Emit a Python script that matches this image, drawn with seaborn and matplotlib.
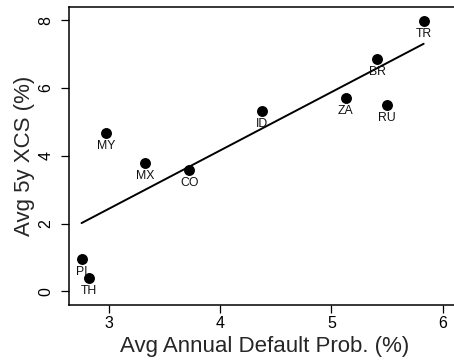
import matplotlib
matplotlib.use("Agg")
import matplotlib.pyplot as plt
import seaborn as sns
import pandas as pd

countries = ["TR", "BR", "ZA", "RU", "ID", "MY", "MX", "CO", "PI", "TH"]
default_prob = [5.83, 5.41, 5.13, 5.50, 4.37, 2.97, 3.32, 3.72, 2.75, 2.82]
xcs = [7.97, 6.84, 5.71, 5.49, 5.33, 4.66, 3.78, 3.57, 0.96, 0.41]
x_ticks = [3, 4, 5, 6]
y_ticks = [0, 2, 4, 6, 8]

df = pd.DataFrame({"country": countries, "pd": default_prob, "xcs": xcs})

sns.set_style("ticks")
plt.rcParams["font.family"] = ["Liberation Sans", "DejaVu Sans"]

fig = plt.figure(figsize=(4.54, 3.6), dpi=100)
ax = fig.add_axes([69 / 454, 55 / 360, (460 - 69) / 454, (305 - 7) / 360])

sns.regplot(data=df, x="pd", y="xcs", ax=ax, ci=None, truncate=True,
            color="black",
            scatter_kws={"s": 62, "linewidths": 0, "alpha": 1},
            line_kws={"lw": 1.4, "color": "black"})

for c, xv, yv in zip(df["country"], df["pd"], df["xcs"]):
    ax.annotate(c, (xv, yv), xytext=(0, -13), textcoords="offset pixels",
                ha="center", va="center", fontsize=8.8, color="#111111")

ax.set_xlim(2.637, 6.157)
ax.set_ylim(-0.40, 8.384)
ax.set_xticks(x_ticks)
ax.set_yticks(y_ticks)
ax.set_xticklabels([str(t) for t in x_ticks])
ax.set_yticklabels([str(t) for t in y_ticks], rotation=90, va="center")
ax.tick_params(axis="both", direction="out", length=5.5, width=0.9,
               labelsize=11.5, colors="black")
ax.tick_params(axis="x", pad=2.5)
ax.tick_params(axis="y", pad=5.5)
for s in ax.spines.values():
    s.set_visible(True)
    s.set_linewidth(1.1)
    s.set_color("black")

ax.set_xlabel("Avg Annual Default Prob. (%)", fontsize=16, labelpad=3.5)
ax.set_ylabel("Avg 5y XCS (%)", fontsize=16, labelpad=3)

fig.savefig("out.png", dpi=100)
